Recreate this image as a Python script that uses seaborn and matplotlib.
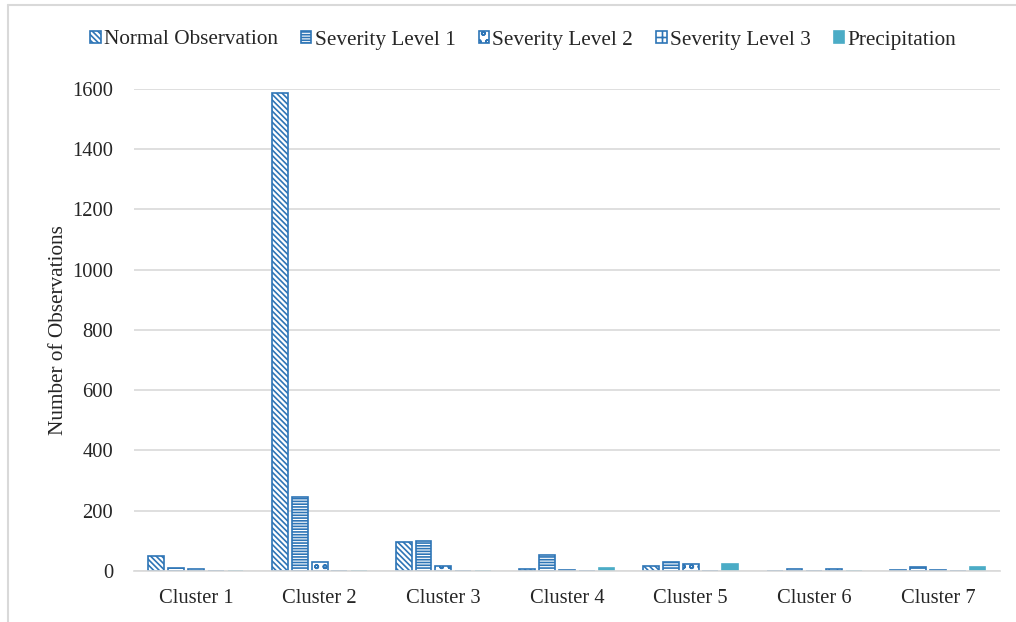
import numpy as np
import pandas as pd
import seaborn as sns
import matplotlib.pyplot as plt
from matplotlib.lines import Line2D

# values
clusters = ['Cluster 1', 'Cluster 2', 'Cluster 3', 'Cluster 4', 'Cluster 5', 'Cluster 6', 'Cluster 7']
series = ['Normal Observation', 'Severity Level 1', 'Severity Level 2', 'Severity Level 3', 'Precipitation']
normal = [50, 1585, 96, 6, 15, 0, 3]
sev1 = [9, 245, 99, 52, 30, 8, 13]
sev2 = [6, 30, 16, 2, 23, 1, 2]
sev3 = [0, 0, 0, 0, 0, 6, 0]
precip = [0, 0, 0, 9, 24, 0, 12]

df = pd.DataFrame({
    'Cluster': clusters * 5,
    'Series': np.repeat(series, len(clusters)),
    'Count': normal + sev1 + sev2 + sev3 + precip,
})

blue = '#2E75B6'
teal = '#4BACC6'
colors = ['white', 'white', 'white', 'white', teal]
edges = [blue, blue, blue, blue, teal]
hatches = ['\\\\\\\\\\\\', '------', 'oo', '++', None]

sns.set_style('white')
plt.rcParams['font.family'] = ['Liberation Serif', 'DejaVu Serif']
plt.rcParams['hatch.linewidth'] = 1.2

fig = plt.figure(figsize=(10.16, 6.22), dpi=100)
ax = fig.add_axes([0.132, 0.082, 0.852, 0.775])

sns.barplot(data=df, x='Cluster', y='Count', hue='Series', hue_order=series,
            palette=colors, width=0.8, gap=0.2, legend=False, ax=ax,
            linewidth=1.2, saturation=1)

for cont, ec, h in zip(ax.containers, edges, hatches):
    for p in cont:
        p.set_edgecolor(ec)
        if h:
            p.set_hatch(h)

ax.set_ylim(0, 1600)
ax.set_yticks(range(0, 1601, 200))
ax.grid(axis='y', color='#D9D9D9', linewidth=1.2)
ax.set_axisbelow(True)
for s in ['top', 'right', 'left']:
    ax.spines[s].set_visible(False)
ax.spines['bottom'].set_color('#D9D9D9')
ax.spines['bottom'].set_linewidth(1.2)
ax.tick_params(axis='both', length=0, labelsize=14.8)
ax.tick_params(axis='x', pad=13)
ax.tick_params(axis='y', pad=15)
ax.set_xlabel('')
ax.set_ylabel('Number of Observations', fontsize=15.3, labelpad=3)

fig.legend(ax.containers, series, loc='center', bbox_to_anchor=(0.515, 1 - 40 / 622),
           ncol=5, frameon=False, fontsize=15.3, handlelength=0.48, handleheight=0.48,
           handletextpad=0.15, columnspacing=1.1)

# light chart border (top and left)
fig.add_artist(Line2D([8 / 1016, 8 / 1016], [0, 1 - 5 / 622], color='#D9D9D9', lw=1.5))
fig.add_artist(Line2D([8 / 1016, 1], [1 - 5 / 622, 1 - 5 / 622], color='#D9D9D9', lw=1.5))

fig.savefig('out.png', dpi=100)
